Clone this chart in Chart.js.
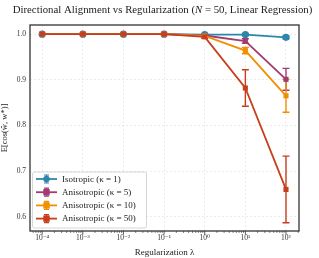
<!DOCTYPE html>
<html>
<head>
<meta charset="utf-8">
<script src="https://cdn.jsdelivr.net/npm/chart.js@4"></script>
<style>
  html, body { margin: 0; padding: 0; background: #fff; }
  #wrap { width: 319px; height: 258px; }
</style>
</head>
<body>
<div id="wrap"><canvas id="chart" width="319" height="258"></canvas></div>
<script>
// values
const lambdas = [1e-4, 1e-3, 1e-2, 1e-1, 1, 10, 100];
const seriesNames = ['Isotropic (κ = 1)', 'Anisotropic (κ = 5)', 'Anisotropic (κ = 10)', 'Anisotropic (κ = 50)'];
const isoMean = [1.0, 1.0, 1.0, 1.0, 0.999, 0.999, 0.993];
const isoErr  = [0, 0, 0, 0, 0.001, 0.002, 0.003];
const k5Mean  = [1.0, 1.0, 1.0, 1.0, 0.997, 0.985, 0.901];
const k5Err   = [0, 0, 0, 0, 0.002, 0.005, 0.024];
const k10Mean = [1.0, 1.0, 1.0, 1.0, 0.996, 0.964, 0.865];
const k10Err  = [0, 0, 0, 0, 0.002, 0.007, 0.036];
const k50Mean = [1.0, 1.0, 1.0, 1.0, 0.994, 0.882, 0.660];
const k50Err  = [0, 0, 0, 0, 0.003, 0.040, 0.073];
const yTicks = [0.6, 0.7, 0.8, 0.9, 1.0];
const xTicks = [1e-4, 1e-3, 1e-2, 1e-1, 1, 10, 100];
const xTickLabels = ['10⁻⁴', '10⁻³', '10⁻²', '10⁻¹', '10⁰', '10¹', '10²'];

const colors = ['#2E86AB', '#A23B72', '#F18F01', '#C73E1D'];
const markers = ['circle', 'rect', 'rect', 'rect'];
const means = [isoMean, k5Mean, k10Mean, k50Mean];
const errs = [isoErr, k5Err, k10Err, k50Err];

const serif = '"Liberation Serif", "DejaVu Serif", serif';

const datasets = means.map((m, i) => ({
  label: seriesNames[i],
  data: lambdas.map((x, j) => ({x: x, y: m[j]})),
  borderColor: colors[i],
  backgroundColor: colors[i],
  borderWidth: 1.8,
  pointStyle: markers[i],
  pointRadius: 3.6,
  pointBorderWidth: 0,
  errors: errs[i],
  order: 3 - i,
}));

// error bars, frame, minor ticks, title and legend
const extras = {
  id: 'extras',
  beforeDatasetsDraw(chart) {
    const ctx = chart.ctx;
    const xs = chart.scales.x, ys = chart.scales.y;
    chart.data.datasets.forEach((ds) => {
      ctx.save();
      ctx.strokeStyle = ds.borderColor;
      ctx.lineWidth = 1.4;
      ds.data.forEach((p, j) => {
        const e = ds.errors[j];
        if (!e) return;
        const px = xs.getPixelForValue(p.x);
        const y1 = ys.getPixelForValue(p.y - e);
        const y2 = ys.getPixelForValue(p.y + e);
        ctx.beginPath();
        ctx.moveTo(px, y1); ctx.lineTo(px, y2);
        ctx.moveTo(px - 3.5, y1); ctx.lineTo(px + 3.5, y1);
        ctx.moveTo(px - 3.5, y2); ctx.lineTo(px + 3.5, y2);
        ctx.stroke();
      });
      ctx.restore();
    });
  },
  afterDraw(chart) {
    const ctx = chart.ctx;
    const a = chart.chartArea;
    const xs = chart.scales.x;
    ctx.save();

    // minor ticks on the log axis
    ctx.strokeStyle = '#333';
    ctx.lineWidth = 0.6;
    for (let k = -5; k <= 2; k++) {
      for (let m = 2; m <= 9; m++) {
        const v = m * Math.pow(10, k);
        if (v < xs.min || v > xs.max) continue;
        const px = xs.getPixelForValue(v);
        ctx.beginPath();
        ctx.moveTo(px, a.bottom); ctx.lineTo(px, a.bottom + 2);
        ctx.stroke();
      }
    }
    ctx.lineWidth = 0.8;
    xTicks.forEach((v) => {
      const px = xs.getPixelForValue(v);
      ctx.beginPath();
      ctx.moveTo(px, a.bottom); ctx.lineTo(px, a.bottom + 3.5);
      ctx.stroke();
    });

    // frame
    ctx.strokeStyle = '#333';
    ctx.lineWidth = 1.3;
    ctx.strokeRect(a.left, a.top, a.right - a.left, a.bottom - a.top);

    // title with italic N
    ctx.fillStyle = '#222';
    ctx.textBaseline = 'middle';
    const parts = [
      ['Directional Alignment vs Regularization (', 'normal'],
      ['N', 'italic'],
      [' = 50, Linear Regression)', 'normal'],
    ];
    let total = 0;
    parts.forEach((p) => { ctx.font = p[1] + ' 10.8px ' + serif; total += ctx.measureText(p[0]).width; });
    let tx = 162.5 - total / 2;
    parts.forEach((p) => {
      ctx.font = p[1] + ' 10.8px ' + serif;
      ctx.textAlign = 'left';
      ctx.fillText(p[0], tx, 10);
      tx += ctx.measureText(p[0]).width;
    });

    // legend
    const lx = a.left + 2.5, ly = 172, lw = 114, lh = 56;
    ctx.fillStyle = 'rgba(255,255,255,0.9)';
    ctx.strokeStyle = '#cccccc';
    ctx.lineWidth = 0.8;
    ctx.beginPath();
    ctx.roundRect(lx, ly, lw, lh, 2);
    ctx.fill();
    ctx.stroke();
    ctx.font = '9px ' + serif;
    ctx.textAlign = 'left';
    ctx.textBaseline = 'middle';
    chart.data.datasets.forEach((ds, i) => {
      const cy = 179 + i * 13.2;
      const c = ds.borderColor;
      ctx.strokeStyle = c;
      ctx.fillStyle = c;
      ctx.lineWidth = 1.8;
      ctx.beginPath();
      ctx.moveTo(36, cy); ctx.lineTo(57, cy);
      ctx.stroke();
      ctx.lineWidth = 1.2;
      ctx.beginPath();
      ctx.moveTo(46.5, cy - 4); ctx.lineTo(46.5, cy + 4);
      ctx.moveTo(44, cy - 4); ctx.lineTo(49, cy - 4);
      ctx.moveTo(44, cy + 4); ctx.lineTo(49, cy + 4);
      ctx.stroke();
      if (markers[i] === 'circle') {
        ctx.beginPath(); ctx.arc(46.5, cy, 3.2, 0, Math.PI * 2); ctx.fill();
      } else {
        ctx.fillRect(43.3, cy - 3.2, 6.4, 6.4);
      }
      ctx.fillStyle = '#222';
      ctx.fillText(ds.label, 62, cy + 0.5);
    });
    ctx.restore();
  }
};

new Chart(document.getElementById('chart'), {
  type: 'line',
  data: {datasets: datasets},
  plugins: [extras],
  options: {
    responsive: false,
    animation: false,
    layout: {padding: {top: 25, right: 20, left: 0, bottom: 0}},
    plugins: {legend: {display: false}, tooltip: {enabled: false}, title: {display: false}},
    scales: {
      x: {
        type: 'logarithmic',
        min: Math.pow(10, -4.3),
        max: Math.pow(10, 2.32),
        afterBuildTicks: (s) => { s.ticks = xTicks.map((v) => ({value: v})); },
        afterFit: (s) => { s.height = 27; },
        ticks: {
          callback: (v) => xTickLabels[xTicks.indexOf(v)] || '',
          font: {family: serif, size: 7.5},
          color: '#333',
          maxRotation: 0,
          autoSkip: false,
          padding: 3,
        },
        grid: {color: 'rgba(0,0,0,0.13)', lineWidth: 0.6, drawTicks: false},
        border: {display: false, dash: [2, 2]},
        title: {display: true, text: 'Regularization λ', font: {family: serif, size: 9}, color: '#222', padding: {top: 0, bottom: 0}},
      },
      y: {
        min: 0.569,
        max: 1.02,
        afterBuildTicks: (s) => { s.ticks = yTicks.map((v) => ({value: v})); },
        afterFit: (s) => { s.width = 30; },
        ticks: {
          callback: (v) => v.toFixed(1),
          font: {family: serif, size: 7.5},
          color: '#333',
          padding: 4,
        },
        grid: {color: 'rgba(0,0,0,0.13)', lineWidth: 0.6, drawTicks: false},
        border: {display: false, dash: [2, 2]},
        title: {display: true, text: 'E[cos(ŵ, w*)]', font: {family: serif, size: 8.5}, color: '#222', padding: {top: 0, bottom: 1}},
      }
    }
  }
});
</script>
</body>
</html>
